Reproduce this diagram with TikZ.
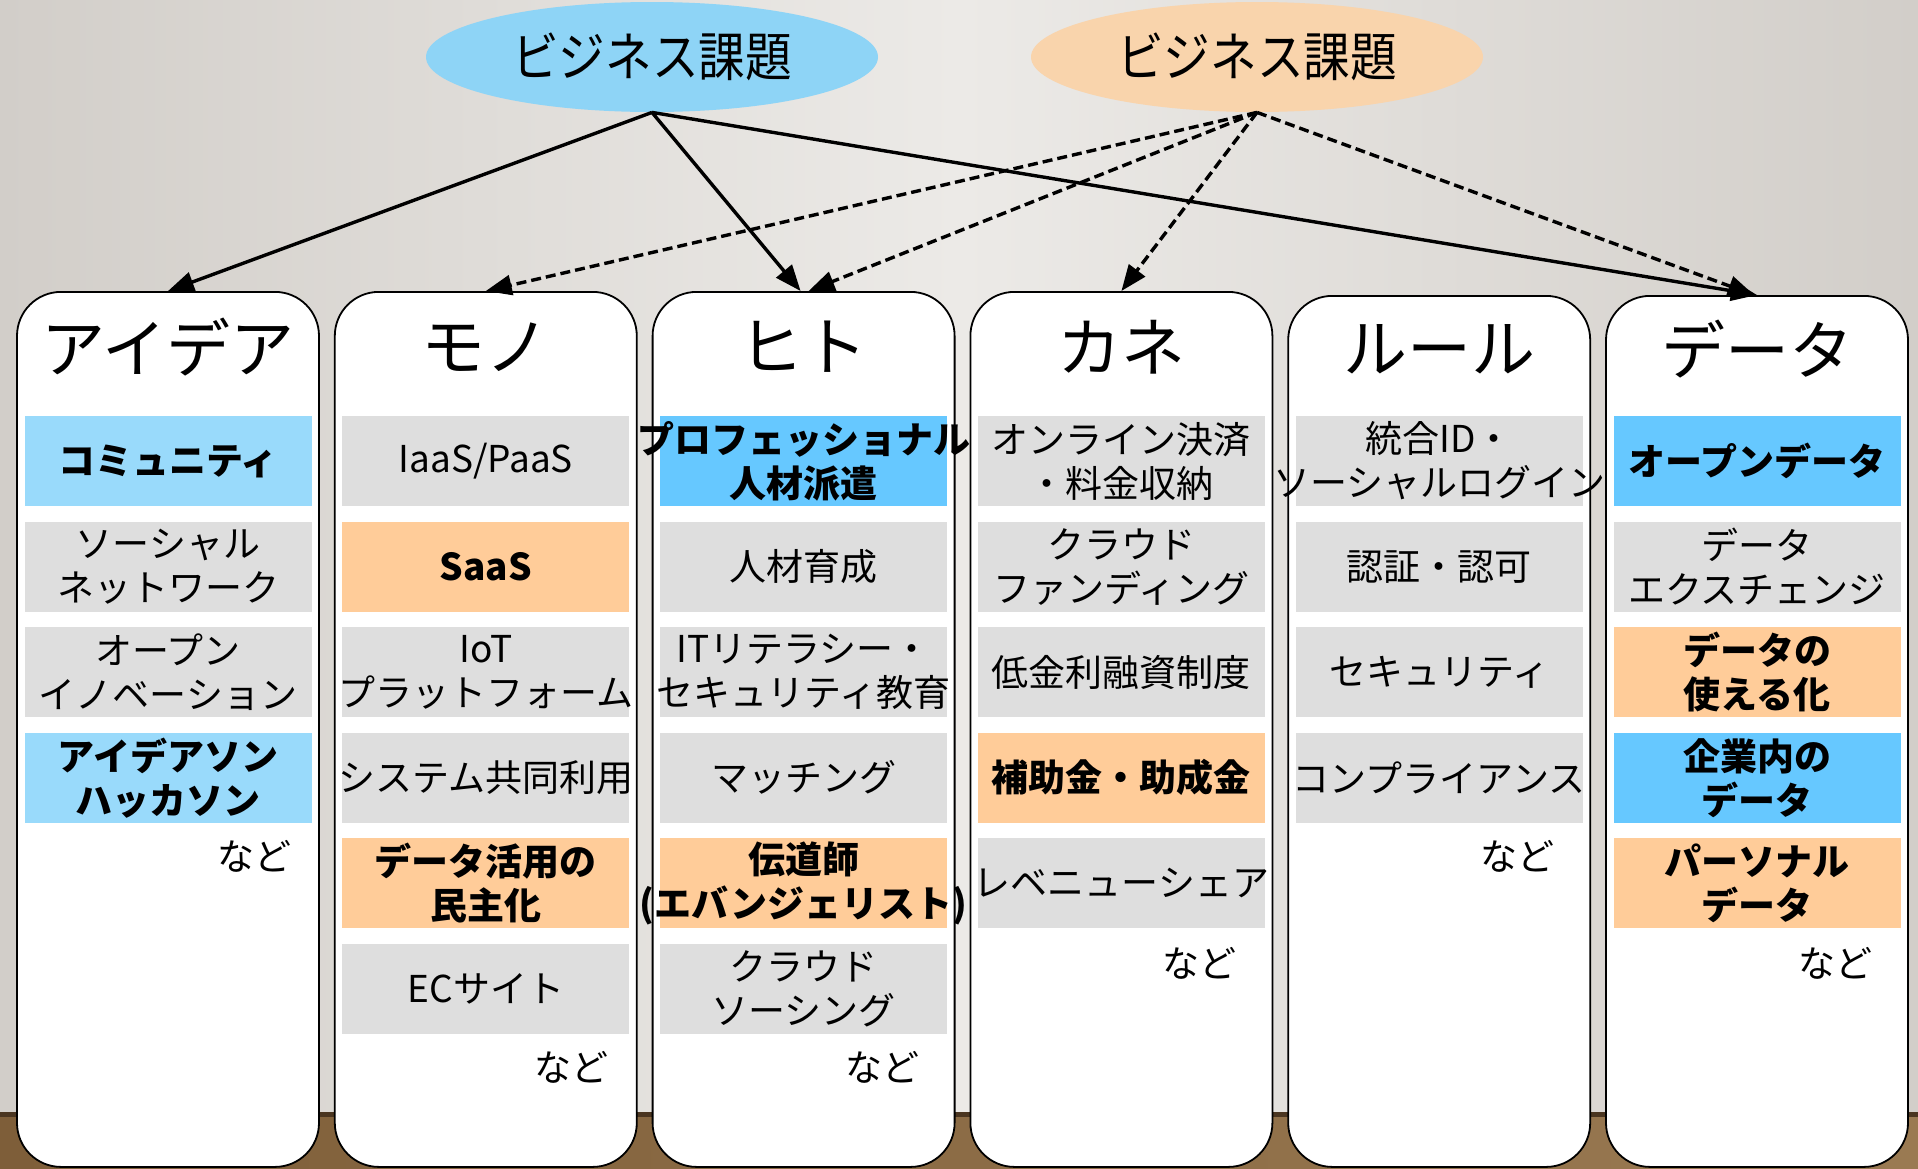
\documentclass[tikz,border=0pt]{standalone}
\usepackage{fontspec}
\setmainfont{Noto Sans CJK JP}
\usetikzlibrary{arrows.meta,shapes.geometric}
\definecolor{bgdark}{HTML}{D2CEC9}
\definecolor{bglight}{HTML}{ECEAE7}
\definecolor{wooddark}{HTML}{7E5E39}
\definecolor{woodlight}{HTML}{9A7A52}
\definecolor{woodedge}{HTML}{4A3520}
\definecolor{blueA}{HTML}{99DAFB}
\definecolor{blueB}{HTML}{66C8FF}
\definecolor{orng}{HTML}{FFCC99}
\definecolor{gry}{HTML}{DEDEDE}
\definecolor{ellBlue}{HTML}{8ED4F6}
\definecolor{ellOrange}{HTML}{F9D4AC}
\newcommand\itm[5]{\node[item,fill=#3] (#1) at #2 {}; \node[#4] (#1t) at (#1.center) {#5};}
\begin{document}
\begin{tikzpicture}[x=0.5pt,y=-0.5pt,
  colbox/.style={draw=black, line width=0.9pt, fill=white, rounded corners=22pt,
    minimum width=151pt, minimum height=437.5pt, inner sep=0pt, anchor=north},
  item/.style={minimum width=143.5pt, minimum height=45pt, inner sep=0pt, draw=none},
  itxt/.style={align=center, font=\fontsize{18.5}{22}\selectfont, inner sep=0pt},
  btxt/.style={itxt, font=\fontsize{18.5}{22}\selectfont\bfseries},
  title/.style={font=\fontsize{32}{36}\selectfont, inner sep=0pt},
  nado/.style={font=\fontsize{18.5}{22}\selectfont, inner sep=0pt},
  issue/.style={ellipse, minimum width=226pt, minimum height=55pt, inner sep=0pt, draw=none,
    font=\fontsize{26.5}{30}\selectfont},
  solidarr/.style={line width=1.7pt, -{Triangle[length=13pt,width=10pt]}},
  dasharr/.style={solidarr, dash pattern=on 5pt off 2.5pt}]
\useasboundingbox (0,0) rectangle (1918,1168);
% background
\fill[left color=bgdark, right color=bgdark, middle color=bglight] (0,0) rectangle (1918,1112);
\fill[left color=wooddark, right color=woodlight] (0,1112) rectangle (1918,1168);
\fill[woodedge] (0,1112) rectangle (1918,1117);
% ellipses
\node[issue, fill=ellBlue] (iss1) at (652,57) {\scalebox{0.88}[1]{ビジネス課題}};
\node[issue, fill=ellOrange] (iss2) at (1257,57) {\scalebox{0.88}[1]{ビジネス課題}};
% columns
\node[colbox] (c1) at (168,291) {};
\node[colbox] (c2) at (485.8,291) {};
\node[colbox] (c3) at (803.6,291) {};
\node[colbox] (c4) at (1121.4,291) {};
\node[colbox, minimum height=435.5pt] (c5) at (1439.2,295) {};
\node[colbox, minimum height=435.5pt] (c6) at (1757,295) {};
% titles
\node[title] (h1) at (168,347) {アイデア};
\node[title] (h2) at (485.8,347) {モノ};
\node[title] (h3) at (803.6,347) {ヒト};
\node[title] (h4) at (1121.4,347) {カネ};
\node[title] (h5) at (1439.2,349) {ルール};
\node[title] (h6) at (1757,349) {データ};
% column 1
\itm{a1}{(168,461)}{blueA}{btxt}{コミュニティ}
\itm{a2}{(168,566.6)}{gry}{itxt}{ソーシャル\\ネットワーク}
\itm{a3}{(168,672.2)}{gry}{itxt}{オープン\\イノベーション}
\itm{a4}{(168,777.8)}{blueA}{btxt}{アイデアソン\\ハッカソン}
\node[nado] (n1) at (254,856) {など};
% column 2
\itm{b1}{(485.8,461)}{gry}{itxt}{IaaS/PaaS}
\itm{b2}{(485.8,566.6)}{orng}{btxt}{SaaS}
\itm{b3}{(485.8,672.2)}{gry}{itxt}{IoT\\プラットフォーム}
\itm{b4}{(485.8,777.8)}{gry}{itxt}{システム共同利用}
\itm{b5}{(485.8,883.4)}{orng}{btxt}{データ活用の\\民主化}
\itm{b6}{(485.8,989)}{gry}{itxt}{ECサイト}
\node[nado] (n2) at (571,1067) {など};
% column 3
\itm{d1}{(803.6,461)}{blueB}{btxt}{プロフェッショナル\\人材派遣}
\itm{d2}{(803.6,566.6)}{gry}{itxt}{人材育成}
\itm{d3}{(803.6,672.2)}{gry}{itxt}{ITリテラシー・\\セキュリティ教育}
\itm{d4}{(803.6,777.8)}{gry}{itxt}{マッチング}
\itm{d5}{(803.6,883.4)}{orng}{btxt}{伝道師\\(エバンジェリスト)}
\itm{d6}{(803.6,989)}{gry}{itxt}{クラウド\\ソーシング}
\node[nado] (n3) at (882,1067) {など};
% column 4
\itm{e1}{(1121.4,461)}{gry}{itxt}{オンライン決済\\・料金収納}
\itm{e2}{(1121.4,566.6)}{gry}{itxt}{クラウド\\ファンディング}
\itm{e3}{(1121.4,672.2)}{gry}{itxt}{低金利融資制度}
\itm{e4}{(1121.4,777.8)}{orng}{btxt}{補助金・助成金}
\itm{e5}{(1121.4,883.4)}{gry}{itxt}{レベニューシェア}
\node[nado] (n4) at (1199,963) {など};
% column 5
\itm{f1}{(1439.2,461)}{gry}{itxt}{統合ID・\\ソーシャルログイン}
\itm{f2}{(1439.2,566.6)}{gry}{itxt}{認証・認可}
\itm{f3}{(1439.2,672.2)}{gry}{itxt}{セキュリティ}
\itm{f4}{(1439.2,777.8)}{gry}{itxt}{コンプライアンス}
\node[nado] (n5) at (1517,856) {など};
% column 6
\itm{g1}{(1757,461)}{blueB}{btxt}{オープンデータ}
\itm{g2}{(1757,566.6)}{gry}{itxt}{データ\\エクスチェンジ}
\itm{g3}{(1757,672.2)}{orng}{btxt}{データの\\使える化}
\itm{g4}{(1757,777.8)}{blueB}{btxt}{企業内の\\データ}
\itm{g5}{(1757,883.4)}{orng}{btxt}{パーソナル\\データ}
\node[nado] (n6) at (1835,963) {など};
% arrows
\draw[solidarr] (iss1.south) -- (c1.north);
\draw[solidarr] (iss1.south) -- ([xshift=-1.5pt]c3.north);
\draw[solidarr] (iss1.south) -- (c6.north);
\draw[dasharr] (iss2.south) -- (c2.north);
\draw[dasharr] (iss2.south) -- ([xshift=2.5pt]c3.north);
\draw[dasharr] (iss2.south) -- (c4.north);
\draw[dasharr] (iss2.south) -- ([xshift=-1.5pt]c6.north);
\end{tikzpicture}
\end{document}
